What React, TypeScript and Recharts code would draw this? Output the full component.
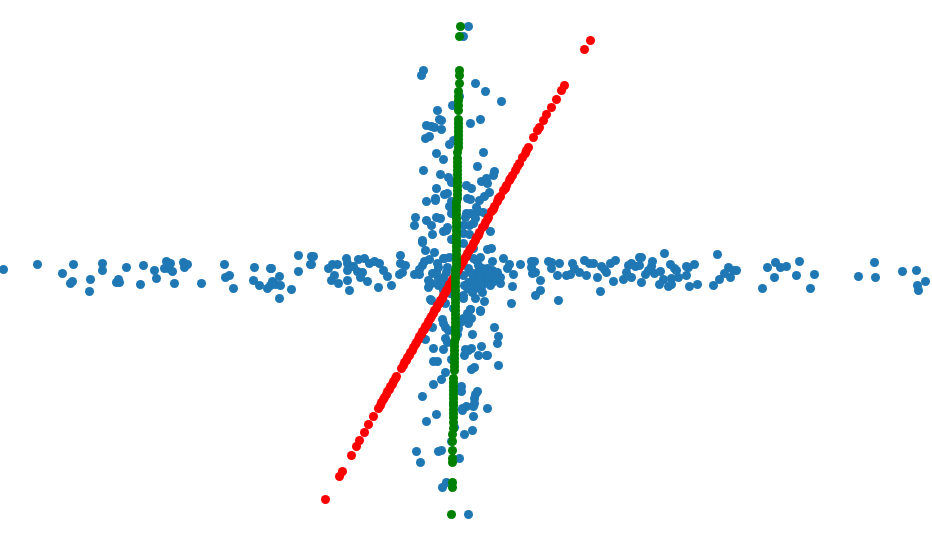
import { Scatter, ScatterChart, XAxis, YAxis, ZAxis } from "recharts"

type Pair = [number, number]

// the reference has no axes so the units are just its own width and height
const blueLeft: Pair[] = [
  [3, 269], [37, 264], [62, 273], [73, 264], [72, 281], [70, 283], [90, 279], [89, 291], [102, 263], [102, 270],
  [126, 267], [118, 279], [116, 282], [119, 282], [143, 265], [140, 284], [154, 270], [156, 278], [166, 261], [170, 263],
  [164, 268], [168, 268], [172, 271], [174, 283], [183, 262], [187, 264], [184, 267], [201, 283], [224, 264], [229, 275],
  [225, 277], [233, 288], [254, 267], [253, 280], [259, 285], [270, 268], [271, 268], [279, 276], [272, 281], [270, 285],
  [267, 288], [275, 284], [280, 285], [279, 298], [291, 289], [298, 271], [298, 255], [310, 264], [311, 256],
]

const blueCentre: Pair[] = [
  [313, 256], [311, 264], [328, 268], [332, 264], [337, 264], [346, 258], [347, 263], [358, 259], [364, 258], [369, 263],
  [374, 261], [379, 263], [383, 270], [387, 276], [391, 285], [378, 287], [349, 290], [347, 280], [338, 283], [331, 280],
  [334, 275], [347, 270], [353, 266], [357, 271], [362, 272], [360, 277], [367, 281], [400, 255], [400, 263], [405, 265],
  [402, 272], [399, 274], [422, 242], [425, 250], [434, 252], [424, 261], [429, 259], [422, 265], [419, 269], [414, 274],
  [419, 274], [428, 280], [428, 287], [430, 299], [437, 263], [444, 258], [449, 257], [438, 267], [447, 267], [432, 273],
  [438, 278], [438, 285], [443, 277], [448, 282], [443, 290], [450, 293], [445, 303], [453, 308], [463, 243], [473, 258],
  [480, 257], [487, 249], [491, 248], [492, 261], [503, 258], [509, 264], [507, 268], [520, 264], [513, 274], [500, 277],
  [500, 283], [512, 286], [492, 270], [487, 273], [482, 268], [477, 272], [483, 278], [490, 277], [495, 278], [480, 283],
  [473, 277], [468, 282], [463, 275], [475, 288], [482, 292], [490, 285], [463, 295], [475, 298], [484, 301], [511, 303],
  [463, 298], [470, 309], [480, 310], [487, 268], [492, 282], [485, 282], [467, 288], [473, 248], [476, 260], [443, 258],
  [484, 270], [486, 275], [489, 272], [478, 280], [482, 285], [470, 272], [474, 283], [480, 275], [494, 274], [497, 272],
  [488, 281], [478, 265], [468, 268], [464, 285], [472, 292], [436, 272], [431, 283], [441, 283], [446, 272], [442, 300],
]

const blueRight: Pair[] = [
  [531, 261], [534, 261], [531, 267], [532, 273], [535, 272], [540, 280], [540, 290], [535, 295], [558, 300], [548, 261],
  [551, 262], [559, 263], [551, 268], [557, 275], [566, 275], [570, 274], [572, 263], [574, 268], [579, 272], [584, 260],
  [589, 263], [593, 263], [586, 275], [597, 277], [600, 291], [601, 266], [604, 269], [610, 263], [615, 260], [613, 281],
  [606, 272], [623, 279], [631, 277], [626, 272], [628, 265], [631, 263], [635, 266], [639, 265], [639, 257], [641, 257],
  [641, 282], [645, 274], [648, 270], [651, 266], [652, 261], [654, 273], [660, 271], [663, 279], [659, 284], [664, 253],
  [670, 264], [674, 268], [676, 270], [671, 278], [678, 277], [671, 284], [668, 286], [686, 266], [688, 267], [694, 264],
  [686, 275], [689, 286], [697, 284], [717, 254], [713, 285], [719, 279], [724, 273], [728, 267], [733, 270], [736, 270],
  [730, 277], [767, 267], [775, 262], [780, 267], [786, 266], [799, 261], [774, 277], [762, 288], [796, 275], [814, 274],
  [810, 288], [858, 276], [874, 262], [875, 277], [902, 271], [916, 270], [917, 285], [925, 281], [918, 290],
]

const blueUpper: Pair[] = [
  [468, 26], [463, 36], [423, 70], [421, 75], [475, 83], [485, 91], [501, 101], [459, 96], [452, 105], [437, 110],
  [480, 119], [470, 123], [439, 119], [441, 120], [426, 125], [431, 126], [434, 127], [441, 129], [425, 138], [429, 136],
  [449, 144], [453, 140], [436, 153], [483, 152], [443, 159], [477, 166], [423, 170], [440, 174], [448, 177], [451, 182],
  [494, 171], [493, 175], [481, 181], [486, 178], [487, 183], [466, 185], [471, 188], [436, 188], [489, 192], [484, 196],
  [479, 200], [447, 193], [444, 194], [426, 201], [435, 198], [435, 200], [467, 198], [470, 199], [449, 206], [451, 201],
  [476, 207], [478, 211], [483, 212], [451, 213], [466, 213], [470, 213], [465, 217], [475, 218], [436, 217], [440, 218],
  [415, 217], [426, 220], [414, 225], [431, 225], [463, 225], [469, 225], [473, 223], [447, 227], [443, 231], [446, 230],
  [432, 234], [490, 231], [463, 233], [469, 234], [422, 240], [451, 239],
]

const blueLower: Pair[] = [
  [431, 300], [470, 309], [480, 311], [463, 318], [468, 323], [471, 318], [467, 313], [460, 322], [442, 319], [443, 323],
  [445, 327], [448, 330], [432, 327], [458, 328], [457, 334], [472, 334], [494, 327], [498, 336], [497, 343], [425, 339],
  [445, 338], [447, 342], [481, 346], [471, 348], [468, 350], [465, 349], [464, 355], [478, 355], [486, 355], [487, 355],
  [433, 348], [443, 349], [433, 361], [437, 361], [451, 359], [498, 365], [474, 367], [471, 369], [445, 372], [441, 379],
  [433, 384], [422, 396], [461, 386], [461, 391], [477, 391], [475, 394], [474, 398], [474, 403], [487, 408], [466, 406],
  [462, 408], [462, 410], [473, 406], [436, 414], [426, 421], [473, 416], [454, 427], [464, 434], [472, 430], [451, 441],
  [416, 451], [438, 451], [441, 450], [420, 462], [459, 458], [446, 482], [442, 487], [468, 514],
]

const redPoints: Pair[] = [
  [590, 40], [584, 49], [564, 85], [561, 90], [556, 99], [551, 107], [546, 114], [543, 120], [539, 127], [537, 130],
  [533, 137], [528, 147], [526, 150], [525, 153], [522, 157], [519, 163], [517, 166], [515, 170], [512, 175], [510, 178], [509, 180],
  [506, 185], [505, 188], [503, 190], [500, 196], [498, 198], [497, 201], [494, 206], [493, 209], [491, 211], [488, 217], [487, 219],
  [485, 222], [484, 225], [482, 227], [479, 232], [478, 235], [476, 237], [475, 240], [473, 243], [472, 246], [470, 248], [469, 250],
  [467, 253], [466, 256], [464, 258], [463, 261], [461, 264], [460, 266], [458, 269], [457, 271], [455, 274], [454, 277], [452, 279],
  [451, 282], [449, 284], [448, 287], [446, 290], [445, 292], [443, 295], [442, 298], [440, 300], [439, 303], [437, 305], [436, 308],
  [434, 310], [433, 313], [431, 316], [430, 318], [428, 321], [427, 324], [425, 326], [424, 329], [422, 331], [421, 334], [419, 336],
  [418, 339], [416, 342], [415, 344], [413, 347], [412, 350], [410, 352], [409, 355], [407, 357], [406, 360], [404, 362], [403, 365],
  [401, 368], [396, 376], [395, 378], [393, 381], [392, 384], [390, 386], [389, 389], [387, 391], [386, 394], [384, 397], [383, 399],
  [381, 402], [380, 405], [378, 408], [373, 416], [368, 424], [364, 432], [359, 440], [356, 446], [351, 455], [342, 471], [339, 476],
  [325, 499],
]

const greenPoints: Pair[] = [
  [460, 26], [459, 36], [459, 70], [459, 75], [459, 83], [458, 91], [458, 96], [458, 100], [458, 105], [458, 110],
  [458, 119], [458, 123], [458, 127], [458, 131], [458, 135], [458, 139], [458, 143], [458, 147], [457, 152], [457, 158],
  [457, 162], [457, 166], [457, 170], [457, 174], [457, 178], [457, 182], [457, 186], [457, 190], [457, 194], [457, 198],
  [456, 202], [456, 206], [456, 210], [456, 214], [456, 218], [456, 222], [456, 226], [456, 230], [456, 234], [456, 238],
  [456, 242], [456, 246], [456, 250], [456, 254], [456, 258], [456, 262], [456, 266], [455, 270], [455, 274], [455, 278],
  [455, 282], [455, 286], [455, 290], [455, 294], [455, 298], [455, 302], [455, 306], [455, 310], [455, 314], [455, 318],
  [455, 322], [455, 326], [455, 330], [455, 334], [455, 338], [454, 342], [454, 346], [454, 350], [454, 354], [454, 358],
  [454, 362], [454, 366], [454, 370], [453, 378], [453, 382], [453, 386], [453, 390], [453, 394], [453, 398], [453, 402],
  [453, 405], [453, 409], [453, 413], [453, 417], [453, 422], [453, 428], [452, 434], [452, 441], [452, 450], [452, 458],
  [452, 462], [452, 482], [452, 487], [451, 514],
]

const toRows = (pairs: Pair[]) => pairs.map(([x, y]) => ({ x, y }))

const blueRows = toRows([...blueLeft, ...blueCentre, ...blueRight, ...blueUpper, ...blueLower])

export default function App() {
  return (
    <div style={{ position: "absolute", left: 0, top: 0 }}>
      <ScatterChart width={932} height={542} margin={{ top: 0, right: 0, bottom: 0, left: 0 }}>
        <XAxis type="number" dataKey="x" domain={[-0.5, 931.5]} hide />
        <YAxis type="number" dataKey="y" domain={[-0.5, 541.5]} reversed hide />
        <ZAxis range={[36, 36]} />
        <Scatter data={blueRows} fill="#1f77b4" isAnimationActive={false} />
        <Scatter data={toRows(redPoints)} fill="#ff0000" isAnimationActive={false} />
        <Scatter data={toRows(greenPoints)} fill="#008000" isAnimationActive={false} />
      </ScatterChart>
    </div>
  )
}
